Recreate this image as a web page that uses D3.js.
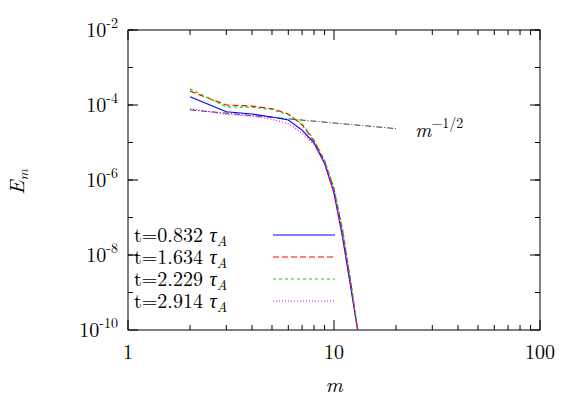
<!DOCTYPE html>
<html><head><meta charset="utf-8">
<script src="https://cdn.jsdelivr.net/npm/d3@7"></script>
<style>body{margin:0;background:#fff}text{font-family:"Latin Modern Roman","Liberation Serif","DejaVu Serif",serif}</style>
</head><body><svg id="c" width="581" height="408"></svg>
<script>
const mVals = [2, 3, 4, 5, 6, 7, 8, 9, 10, 11, 12, 13.2];
const series = [
  {name: "0.832", color: "#0000ff", dash: null, logE: [-3.78, -4.18, -4.24, -4.32, -4.4, -4.67, -5.01, -5.55, -6.35, -7.52, -8.79, -10.2]},
  {name: "1.634", color: "#ff0000", dash: "6,3", logE: [-3.63, -4.0, -4.03, -4.1, -4.24, -4.53, -4.96, -5.5, -6.25, -7.35, -8.65, -10.2]},
  {name: "2.229", color: "#00dd00", dash: "3,3", logE: [-3.57, -4.05, -4.06, -4.12, -4.26, -4.5, -4.93, -5.47, -6.2, -7.3, -8.6, -10.2]},
  {name: "2.914", color: "#ff00ff", dash: "1,2", logE: [-4.1, -4.25, -4.3, -4.38, -4.5, -4.75, -5.05, -5.57, -6.35, -7.5, -8.75, -10.2]}
];
const refM = [2, 20];
const refLog = [-4.13, -4.63];
const xTicks = [1, 10, 100];
const yTicks = [-10, -8, -6, -4, -2];

const svg = d3.select("#c");
const x = d3.scaleLog().domain([1, 100]).range([128, 540]);
const y = d3.scaleLinear().domain([-10, -2]).range([330, 30]);
const g = svg.append("g");

// minor ticks
const minorX = [];
[1, 10].forEach(d => { for (let k = 2; k <= 9; k++) minorX.push(d * k); });
minorX.forEach(v => {
  g.append("line").attr("x1", x(v)).attr("x2", x(v)).attr("y1", 330).attr("y2", 325).attr("stroke", "#000");
  g.append("line").attr("x1", x(v)).attr("x2", x(v)).attr("y1", 30).attr("y2", 35).attr("stroke", "#000");
});
for (let e = -10; e < -2; e++) {
  g.append("line").attr("x1", 128).attr("x2", 133).attr("y1", y(e + 1)).attr("y2", y(e + 1)).attr("stroke", "#000");
  g.append("line").attr("x1", 540).attr("x2", 535).attr("y1", y(e + 1)).attr("y2", y(e + 1)).attr("stroke", "#000");
}
xTicks.forEach(v => {
  g.append("line").attr("x1", x(v)).attr("x2", x(v)).attr("y1", 330).attr("y2", 320).attr("stroke", "#000");
  g.append("line").attr("x1", x(v)).attr("x2", x(v)).attr("y1", 30).attr("y2", 40).attr("stroke", "#000");
  g.append("text").attr("x", x(v)).attr("y", 359).attr("text-anchor", "middle").attr("font-size", 20).text(v);
});
yTicks.forEach(v => {
  g.append("line").attr("x1", 128).attr("x2", 138).attr("y1", y(v)).attr("y2", y(v)).attr("stroke", "#000");
  g.append("line").attr("x1", 540).attr("x2", 530).attr("y1", y(v)).attr("y2", y(v)).attr("stroke", "#000");
  const t = g.append("text").attr("x", 118).attr("y", y(v) + 7).attr("text-anchor", "end").attr("font-size", 20);
  t.append("tspan").text("10");
  t.append("tspan").attr("dy", -9).attr("font-size", 14).text(v);
});
g.append("rect").attr("x", 128).attr("y", 30).attr("width", 412).attr("height", 300).attr("fill", "none").attr("stroke", "#000");

svg.append("clipPath").attr("id", "cp").append("rect").attr("x", 128).attr("y", 30).attr("width", 412).attr("height", 300);
const line = d3.line().x(d => x(d[0])).y(d => y(d[1]));

g.append("path").attr("d", line(refM.map((m, i) => [m, refLog[i]])))
  .attr("stroke", "#000").attr("stroke-width", 0.8).attr("stroke-dasharray", "6,2,1,2").attr("fill", "none");

series.forEach((s, i) => {
  g.append("path").attr("clip-path", "url(#cp)").attr("d", line(mVals.map((m, j) => [m, s.logE[j]])))
    .attr("stroke", s.color).attr("stroke-width", 1.2).attr("fill", "none").attr("stroke-dasharray", s.dash);
  const ly = 235 + i * 22;
  g.append("line").attr("x1", 273).attr("x2", 335).attr("y1", ly).attr("y2", ly)
    .attr("stroke", s.color).attr("stroke-width", 1.2).attr("stroke-dasharray", s.dash);
  const t = g.append("text").attr("x", 134).attr("y", ly + 7).attr("font-size", 20);
  t.append("tspan").text("t=" + s.name + " ");
  t.append("tspan").attr("font-style", "italic").text("τ");
  t.append("tspan").attr("font-style", "italic").attr("font-size", 14).attr("dy", 4).text("A");
});

const rt = g.append("text").attr("x", 415).attr("y", 137).attr("font-size", 20);
rt.append("tspan").attr("font-style", "italic").text("m");
rt.append("tspan").attr("dy", -9).attr("font-size", 14).text("−1/2");

g.append("text").attr("x", 334).attr("y", 392).attr("text-anchor", "middle").attr("font-size", 21).attr("font-style", "italic").text("m");
const yl = g.append("text").attr("transform", "translate(24,182) rotate(-90)").attr("text-anchor", "middle").attr("font-size", 21);
yl.append("tspan").attr("font-style", "italic").text("E");
yl.append("tspan").attr("font-style", "italic").attr("font-size", 14).attr("dy", 4).text("m");
</script></body></html>
